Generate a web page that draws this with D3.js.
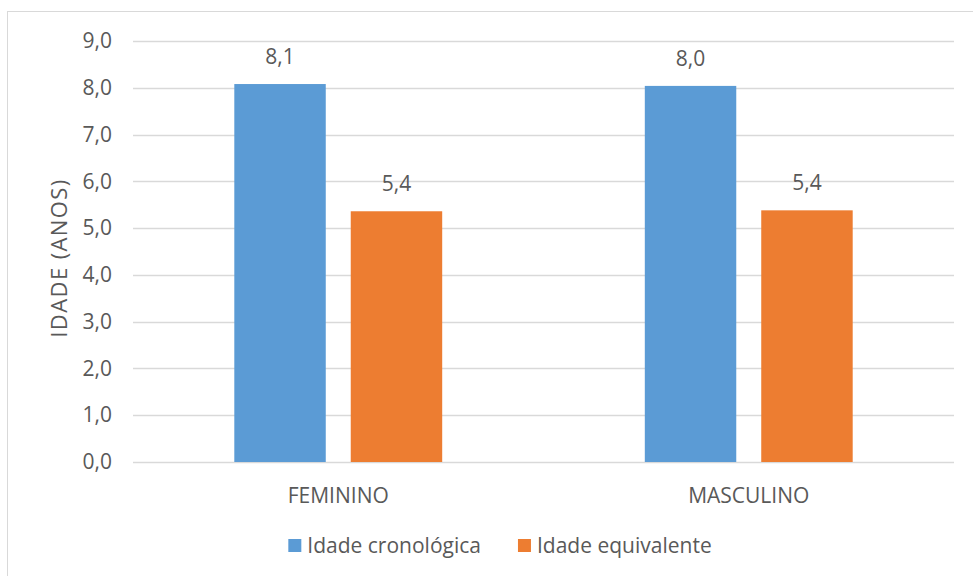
<!DOCTYPE html>
<html>
<head>
<meta charset="utf-8">
<script src="https://cdn.jsdelivr.net/npm/d3@7"></script>
<style>
  html, body { margin: 0; padding: 0; background: #ffffff; }
  svg { display: block; }
  text { font-family: "Open Sans", "Noto Sans", sans-serif; fill: #595959; }
</style>
</head>
<body>
<script>
const categories = ["FEMININO", "MASCULINO"];
const seriesNames = ["Idade cronológica", "Idade equivalente"];
const seriesColors = ["#5b9bd5", "#ed7d31"];
const cronologica = [8.08, 8.04];
const equivalente = [5.36, 5.38];
const yTicks = [0, 1, 2, 3, 4, 5, 6, 7, 8, 9];
const yTitle = "IDADE (ANOS)";

const W = 973, H = 576;
const FS = "21px";
const svg = d3.select("body").append("svg").attr("width", W).attr("height", H);

// chart frame
svg.append("rect").attr("x", 7.5).attr("y", 11.5).attr("width", W + 10).attr("height", H + 10)
  .attr("fill", "#fff").attr("stroke", "#d9d9d9").attr("stroke-width", 1);

const plot = { left: 133, right: 954, top: 41, bottom: 462 };

const x = d3.scaleBand().domain(categories).range([plot.left, plot.right]).paddingInner(0).paddingOuter(0);
const x1 = d3.scaleBand().domain(seriesNames).range([0, x.bandwidth()]).paddingInner(0.2146).paddingOuter(0.87);
const y = d3.scaleLinear().domain([0, 9]).range([plot.bottom, plot.top]);

const fmt = v => d3.format(".1f")(v).replace(".", ",");

// gridlines
svg.append("g").selectAll("line").data(yTicks).join("line")
  .attr("x1", plot.left).attr("x2", plot.right)
  .attr("y1", d => Math.round(y(d)) + 0.5).attr("y2", d => Math.round(y(d)) + 0.5)
  .attr("stroke", "#d9d9d9").attr("stroke-width", 1.3);

// y axis labels
const yAxis = d3.axisLeft(y).tickValues(yTicks).tickFormat(fmt).tickSize(0).tickPadding(21);
const gy = svg.append("g").attr("transform", `translate(${plot.left},0)`).call(yAxis);
gy.select(".domain").remove();
gy.selectAll("text").style("font-size", FS).style("fill", "#595959")
  .style("font-family", '"Open Sans", sans-serif');

// y title
svg.append("text").attr("transform", `translate(67, 258) rotate(-90)`)
  .attr("text-anchor", "middle").style("font-size", "22px").style("letter-spacing", "1.4px")
  .text(yTitle);

// bars
const data = categories.map((c, i) => ({ cat: c, vals: [cronologica[i], equivalente[i]] }));
const groups = svg.append("g").selectAll("g").data(data).join("g")
  .attr("transform", d => `translate(${x(d.cat)},0)`);

groups.selectAll("rect").data(d => d.vals.map((v, j) => ({ v, s: seriesNames[j], j })))
  .join("rect")
  .attr("x", d => x1(d.s)).attr("width", x1.bandwidth())
  .attr("y", d => y(d.v)).attr("height", d => y(0) - y(d.v))
  .attr("fill", d => seriesColors[d.j]);

groups.selectAll("text.lbl").data(d => d.vals.map((v, j) => ({ v, s: seriesNames[j], j })))
  .join("text").attr("class", "lbl")
  .attr("x", d => x1(d.s) + x1.bandwidth() / 2).attr("y", d => y(d.v) - 20)
  .attr("text-anchor", "middle").style("font-size", FS).text(d => fmt(d.v));

// x axis labels
const xAxis = d3.axisBottom(x).tickSize(0).tickPadding(0);
const gx = svg.append("g").attr("transform", `translate(0,${plot.bottom + 41})`).call(xAxis);
gx.select(".domain").remove();
gx.selectAll("text").style("font-size", FS).style("fill", "#595959")
  .style("font-family", '"Open Sans", sans-serif').attr("y", 0).attr("dy", "0");

// legend
const legend = svg.append("g");
const items = legend.selectAll("g").data(seriesNames).join("g");
items.append("rect").attr("width", 13).attr("height", 13).attr("y", -14)
  .attr("fill", (d, i) => seriesColors[i]);
items.append("text").attr("x", 19).attr("y", 0)
  .style("font-size", FS).text(d => d);
let offs = [];
let cx = 0;
items.each(function () {
  offs.push(cx);
  cx += this.getBBox().width + 37;
});
const totalW = cx - 37;
const lx = 500 - totalW / 2;
items.attr("transform", (d, i) => `translate(${lx + offs[i]}, 553)`);
</script>
</body>
</html>
